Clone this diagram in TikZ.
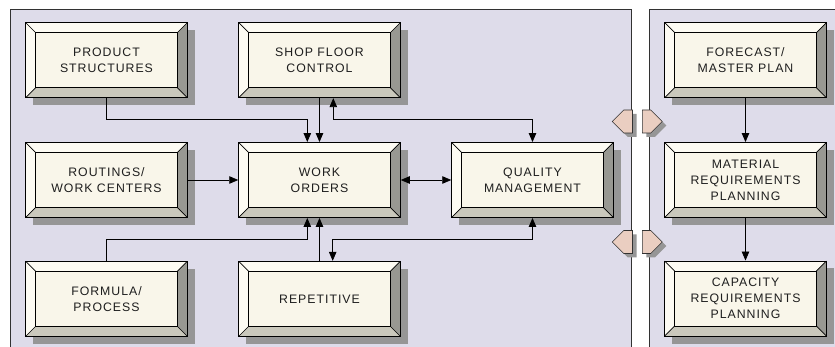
\documentclass[tikz,border=0pt]{standalone}
\usepackage{fontspec}
\newfontfamily\boxfont{Liberation Sans}[LetterSpace=8]
\usetikzlibrary{arrows.meta,shadows}

\definecolor{panelfill}{RGB}{222,220,234}
\definecolor{panelline}{RGB}{50,50,50}
\definecolor{facefill}{RGB}{249,246,234}
\definecolor{bevlight}{RGB}{253,251,243}
\definecolor{bevright}{RGB}{152,152,146}
\definecolor{bevbottom}{RGB}{202,200,188}
\definecolor{shadowgray}{RGB}{150,150,150}
\definecolor{blockfill}{RGB}{234,206,193}
\definecolor{inktext}{RGB}{30,30,30}

\newcommand\ppb{path picture bounding box}

\tikzset{
  modbox/.style={
    rectangle, minimum width=161.6pt, minimum height=75pt, inner sep=0pt,
    align=center, text=inktext,
    font=\boxfont\fontsize{12.3}{16}\selectfont,
    draw=black, line width=0.9pt,
    drop shadow={shadow xshift=7.5pt, shadow yshift=-7.5pt,
                 fill=shadowgray, opacity=1, draw=none},
    path picture={
      % bevel faces
      \fill[bevlight] (\ppb.north west) -- (\ppb.north east)
        -- ([shift={(-10pt,-10pt)}]\ppb.north east)
        -- ([shift={(10pt,-10pt)}]\ppb.north west) -- cycle;
      \fill[bevlight] (\ppb.north west) -- (\ppb.south west)
        -- ([shift={(10pt,10pt)}]\ppb.south west)
        -- ([shift={(10pt,-10pt)}]\ppb.north west) -- cycle;
      \fill[bevright] (\ppb.north east) -- (\ppb.south east)
        -- ([shift={(-10pt,10pt)}]\ppb.south east)
        -- ([shift={(-10pt,-10pt)}]\ppb.north east) -- cycle;
      \fill[bevbottom] (\ppb.south west) -- (\ppb.south east)
        -- ([shift={(-10pt,10pt)}]\ppb.south east)
        -- ([shift={(10pt,10pt)}]\ppb.south west) -- cycle;
      % front face
      \draw[fill=facefill, line width=0.9pt]
        ([shift={(10pt,-10pt)}]\ppb.north west)
        rectangle ([shift={(-10pt,10pt)}]\ppb.south east);
      % corner mitres
      \draw[line width=0.7pt] (\ppb.north west) -- ([shift={(10pt,-10pt)}]\ppb.north west);
      \draw[line width=0.7pt] (\ppb.north east) -- ([shift={(-10pt,-10pt)}]\ppb.north east);
      \draw[line width=0.7pt] (\ppb.south west) -- ([shift={(10pt,10pt)}]\ppb.south west);
      \draw[line width=0.7pt] (\ppb.south east) -- ([shift={(-10pt,10pt)}]\ppb.south east);
    }
  },
  conn/.style={draw=black, line width=0.8pt},
  blockarrow/.style={fill=blockfill, draw=panelline, line width=0.6pt},
  blockshadow/.style={fill=shadowgray},
  >={Triangle[length=9pt,width=7.5pt]}
}

\begin{document}
\begin{tikzpicture}[x=1pt,y=-1pt]
  \useasboundingbox (0,0) rectangle (835,347);
  \fill[white] (0,0) rectangle (835,347);
  \clip (0,0) rectangle (835,347);

  % the two panels, open at the bottom
  \fill[panelfill] (10.7,9) rectangle (631,352);
  \fill[panelfill] (649,9) rectangle (840,352);
  \draw[panelline, line width=0.9pt] (10.7,352) -- (10.7,9) -- (631,9) -- (631,352);
  \draw[panelline, line width=0.9pt] (649,352) -- (649,9) -- (840,9);

  % modules of the left panel
  \node[modbox] (ps)  at (106.5,60.2)  {PRODUCT\\STRUCTURES};
  \node[modbox] (sfc) at (319.5,60.2)  {SHOP FLOOR\\CONTROL};
  \node[modbox] (rwc) at (106.5,180)   {ROUTINGS/\\WORK CENTERS};
  \node[modbox] (wo)  at (319.5,180)   {WORK\\ORDERS};
  \node[modbox] (qm)  at (532.5,180)   {QUALITY\\MANAGEMENT};
  \node[modbox] (fp)  at (106.5,298.8) {FORMULA/\\PROCESS};
  \node[modbox] (rep) at (319.5,298.8) {REPETITIVE};

  % modules of the right panel
  \node[modbox] (fmp) at (745.5,60.2)  {FORECAST/\\MASTER PLAN};
  \node[modbox] (mrp) at (745.5,180)   {MATERIAL\\REQUIREMENTS\\PLANNING};
  \node[modbox] (crp) at (745.5,298.5) {CAPACITY\\REQUIREMENTS\\PLANNING};

  % connectors into and out of the work orders
  \draw[conn,->] (ps.south) -- ++(0,21.3) -| ([xshift=-12.2pt]wo.north);
  \draw[conn,->] (sfc.south) -- (wo.north);
  \draw[conn,<->] ([xshift=13.8pt]sfc.south) -- ++(0,21.3) -| (qm.north);
  \draw[conn,->] (rwc.east) -- (wo.west);
  \draw[conn,<->] (wo.east) -- (qm.west);
  \draw[conn,->] (fp.north) -- ++(0,-21.7) -| ([xshift=-12.2pt]wo.south);
  \draw[conn,->] (rep.north) -- (wo.south);
  \draw[conn,<->] ([xshift=13.2pt]rep.north) -- ++(0,-21.7) -| (qm.south);

  % planning chain
  \draw[conn,->] (fmp.south) -- (mrp.north);
  \draw[conn,->] (mrp.south) -- (crp.north);

  % interface arrows between the panels
  \foreach \yc in {121.5,242} {
    \begin{scope}[shift={(4,4)}]
      \fill[blockshadow] (612.3,\yc) -- (623.8,\yc-11.5) -- (632.5,\yc-11.5)
        -- (632.5,\yc+11.5) -- (623.8,\yc+11.5) -- cycle;
      \fill[blockshadow] (642.3,\yc-11.5) -- (650.8,\yc-11.5) -- (662.3,\yc)
        -- (650.8,\yc+11.5) -- (642.3,\yc+11.5) -- cycle;
    \end{scope}
    \draw[blockarrow] (612.3,\yc) -- (623.8,\yc-11.5) -- (632.5,\yc-11.5)
      -- (632.5,\yc+11.5) -- (623.8,\yc+11.5) -- cycle;
    \draw[blockarrow] (642.3,\yc-11.5) -- (650.8,\yc-11.5) -- (662.3,\yc)
      -- (650.8,\yc+11.5) -- (642.3,\yc+11.5) -- cycle;
  }
\end{tikzpicture}
\end{document}
